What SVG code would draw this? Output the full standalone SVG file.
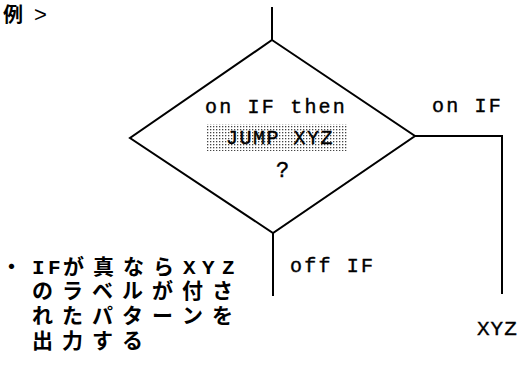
<svg xmlns="http://www.w3.org/2000/svg" width="517" height="374" viewBox="0 0 517 374">
<style>
.ln{stroke:#000;stroke-width:2;fill:none;stroke-linecap:square}
.m{font-family:"Liberation Mono","DejaVu Sans Mono",monospace;fill:#000;stroke:#000;stroke-width:0.4;font-size:20px;letter-spacing:2.2px}
.j{font-family:"Liberation Mono","Noto Sans CJK JP",monospace;fill:#000;font-size:21px;font-weight:bold}
</style>
<defs>
<pattern id="dots" width="3" height="3" patternUnits="userSpaceOnUse">
<rect x="0" y="0" width="1.3" height="1.3" fill="#444"/>
</pattern>
</defs>
<rect width="517" height="374" fill="#fff"/>
<g id="title"><text x="3" y="22" style="font-family:'Noto Sans CJK JP',sans-serif;font-size:20px;font-weight:bold">例</text><text x="34" y="22" style="font-family:'Liberation Sans',sans-serif;font-size:22px">&gt;</text></g>
<g id="decision">
<polygon class="ln" points="272,40 415,136 273,233 130,138" stroke-linejoin="miter"/>
<text class="m" x="205" y="113">on IF then</text>
<rect x="207" y="124" width="140" height="27" fill="url(#dots)"/>
<text class="m" x="226" y="144" style="letter-spacing:1.5px">JUMP XYZ</text>
<text class="m" x="276" y="177" style="font-size:22px">?</text>
</g>
<g id="connectors">
<line class="ln" x1="272" y1="8" x2="272" y2="40"/>
<polyline class="ln" points="415,136 502,136 502,293"/>
<line class="ln" x1="273" y1="233" x2="273" y2="295"/>
</g>
<g id="labels">
<text class="m" x="432" y="112">on IF</text>
<text class="m" x="290" y="272">off IF</text>
<text class="m" x="477" y="335" style="font-size:21px;letter-spacing:1px">XYZ</text>
</g>
<g id="note">
<text class="j" y="274"><tspan x="1">・</tspan><tspan x="32">I</tspan><tspan x="48">F</tspan><tspan x="63">が</tspan><tspan x="93">真</tspan><tspan x="123">な</tspan><tspan x="153">ら</tspan><tspan x="183">X</tspan><tspan x="202">Y</tspan><tspan x="222">Z</tspan></text>
<text class="j" y="298" x="32 62 92 122 152 182 212">のラベルが付さ</text>
<text class="j" y="323" x="32 62 92 122 152 182 212">れたパターンを</text>
<text class="j" y="348" x="32 62 92 122">出力する</text>
</g>
</svg>
